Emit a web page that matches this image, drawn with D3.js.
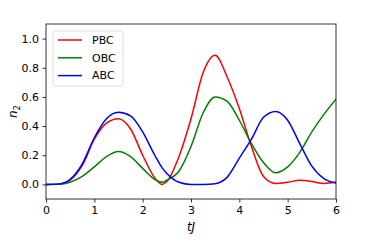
<!DOCTYPE html>
<meta charset="utf-8">
<style>
body { margin: 0; background: #fff; }
text { font-family: "DejaVu Sans", sans-serif; }
</style>
<div id="chart"></div>
<script src="https://cdn.jsdelivr.net/npm/d3@7"></script>
<script>

var times = [0, 0.25, 0.5, 0.75, 1, 1.25, 1.5, 1.75, 2, 2.25, 2.4, 2.5, 2.75, 3,
             3.25, 3.5, 3.75, 4, 4.25, 4.5, 4.75, 5, 5.25, 5.5, 5.75, 6];
var pbc = [0, 0.002, 0.03, 0.13, 0.31, 0.42, 0.45, 0.38, 0.2, 0.045, 0.0, 0.02, 0.19, 0.45,
           0.765, 0.885, 0.735, 0.52, 0.26, 0.055, 0.007, 0.015, 0.028, 0.02, 0.006, 0.016];
var obc = [0, 0.001, 0.015, 0.055, 0.12, 0.19, 0.225, 0.19, 0.11, 0.035, 0.015, 0.03, 0.09, 0.26,
           0.49, 0.6, 0.57, 0.44, 0.28, 0.15, 0.08, 0.12, 0.22, 0.36, 0.48, 0.585];
var abc = [0, 0.002, 0.035, 0.14, 0.32, 0.45, 0.495, 0.47, 0.36, 0.2, 0.115, 0.075, 0.015, 0,
           0, 0.005, 0.05, 0.18, 0.31, 0.46, 0.5, 0.44, 0.28, 0.125, 0.04, 0.01];
var seriesNames = ["PBC", "OBC", "ABC"];
var xTicks = [0, 1, 2, 3, 4, 5, 6];
var yTicks = [0, 0.2, 0.4, 0.6, 0.8, 1.0];

var W = 374, H = 249,
    margin = {top: 24, right: 38, bottom: 50, left: 46},
    width = W - margin.left - margin.right,
    height = H - margin.top - margin.bottom;

var svg = d3.select("#chart").append("svg")
    .attr("width", W)
    .attr("height", H);
var g = svg.append("g").attr("transform", "translate(" + margin.left + "," + margin.top + ")");

var x = d3.scaleLinear().domain([0, 6]).range([0, width]);
var y = d3.scaleLinear().domain([-0.1, 1.1]).range([height, 0]);
var color = d3.scaleOrdinal().domain(seriesNames).range(["#ff0000", "#008000", "#0000ff"]);

var series = [pbc, obc, abc].map(function(vals, i) {
  return {name: seriesNames[i], values: vals.map(function(v, j) { return {t: times[j], v: v}; })};
});

var line = d3.line()
    .curve(d3.curveMonotoneX)
    .x(function(d) { return x(d.t); })
    .y(function(d) { return y(d.v); });

g.append("clipPath").attr("id", "clip")
  .append("rect").attr("width", width).attr("height", height);

g.append("g").attr("clip-path", "url(#clip)")
  .selectAll("path")
  .data(series)
  .enter().append("path")
    .attr("fill", "none")
    .attr("stroke", function(d) { return color(d.name); })
    .attr("stroke-width", 1.5)
    .attr("d", function(d) { return line(d.values); });

var xAxis = g.append("g")
    .attr("transform", "translate(0," + height + ")")
    .call(d3.axisBottom(x).tickValues(xTicks).tickFormat(d3.format("d")).tickSizeOuter(0).tickSize(3.5).tickPadding(3.5));
var yAxis = g.append("g")
    .call(d3.axisLeft(y).tickValues(yTicks).tickFormat(d3.format(".1f")).tickSizeOuter(0).tickSize(3.5).tickPadding(3.5));

[xAxis, yAxis].forEach(function(a) {
  a.selectAll("text").style("font-size", "11px").attr("fill", "#000");
  a.selectAll("line").attr("stroke", "#000").attr("stroke-width", 0.8);
  a.select(".domain").remove();
});

g.append("rect")
    .attr("width", width)
    .attr("height", height)
    .attr("fill", "none")
    .attr("stroke", "#000")
    .attr("stroke-width", 0.8);

g.append("text")
    .attr("x", width / 2)
    .attr("y", height + 32)
    .attr("text-anchor", "middle")
    .style("font-size", "12px")
    .style("font-style", "italic")
    .text("tJ");

var ylab = svg.append("text")
    .attr("transform", "translate(17," + (margin.top + height / 2) + ") rotate(-90)")
    .attr("text-anchor", "middle")
    .style("font-size", "12px")
    .style("font-style", "italic");
ylab.append("tspan").text("n");
ylab.append("tspan").attr("dy", 3).style("font-size", "8.5px").style("font-style", "normal").text("2");

var legend = g.append("g").attr("transform", "translate(7,7)");
legend.append("rect")
    .attr("width", 70)
    .attr("height", 55)
    .attr("rx", 2)
    .attr("fill", "#fff")
    .attr("fill-opacity", 0.8)
    .attr("stroke", "#d5d5d5")
    .attr("stroke-width", 0.8);

var item = legend.selectAll(".item")
    .data(seriesNames)
    .enter().append("g")
    .attr("transform", function(d, i) { return "translate(0," + (9 + i * 17.8) + ")"; });
item.append("line")
    .attr("x1", 5).attr("x2", 29)
    .attr("stroke", function(d) { return color(d); })
    .attr("stroke-width", 1.5);
item.append("text")
    .attr("x", 39)
    .attr("dy", "0.35em")
    .style("font-size", "11px")
    .text(function(d) { return d; });

</script>
